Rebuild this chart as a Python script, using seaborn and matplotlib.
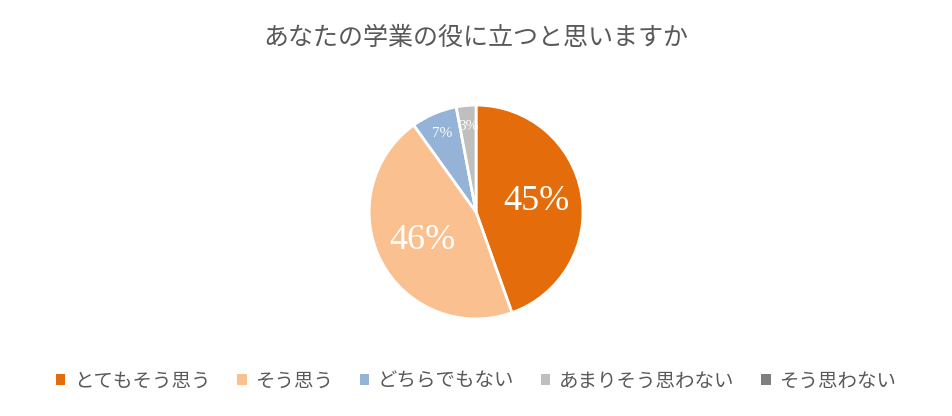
import matplotlib
matplotlib.use("Agg")
import matplotlib.pyplot as plt
import seaborn as sns
from matplotlib.patches import Patch

categories = ["とてもそう思う", "そう思う", "どちらでもない", "あまりそう思わない", "そう思わない"]
values = [45, 46, 7, 3, 0]
colors = ["#E46C0A", "#FAC08F", "#95B3D7", "#BFBFBF", "#7F7F7F"]
title = "あなたの学業の役に立つと思いますか"

sns.set_theme(style="white")
plt.rcParams['font.family'] = ['Noto Sans CJK JP', 'DejaVu Sans']

fig = plt.figure(figsize=(9.52, 4.16), dpi=100)
fig.patch.set_facecolor("white")
ax = fig.add_axes([0.3866, 0.2308, 0.2269, 0.5192])

pv = [v for v in values if v > 0]
pc = [c for v, c in zip(values, colors) if v > 0]
wedges, texts, autotexts = ax.pie(
    pv, colors=pc, startangle=90, counterclock=False,
    autopct=lambda p: "", pctdistance=0.57,
    wedgeprops=dict(edgecolor="white", linewidth=2.0))

for w, t, v in zip(wedges, autotexts, pv):
    t.set_text(f"{v}%")
    t.set_color("white")
    t.set_family(["Liberation Serif", "DejaVu Serif"])
    if v >= 20:
        t.set_fontsize(26)
    else:
        t.set_fontsize(11)
        x, y = t.get_position()
        t.set_position((x * 0.8 / 0.57, y * 0.8 / 0.57))

ax.set_xlim(-1.01, 1.01)
ax.set_ylim(-1.01, 1.01)
ax.set_aspect("equal")

fig.text(0.5, 1 - 38 / 416, title, ha="center", va="center",
         fontsize=18, color="#595959")

handles = [Patch(facecolor=c, edgecolor="none") for c in colors]
fig.legend(handles, categories, loc="center", bbox_to_anchor=(0.5, 1 - 381 / 416),
           ncol=5, frameon=False, fontsize=14, handlelength=0.5, handleheight=0.5,
           handletextpad=0.45, columnspacing=1.35, labelcolor="#595959")

fig.savefig("out.png", dpi=100, facecolor="white")
